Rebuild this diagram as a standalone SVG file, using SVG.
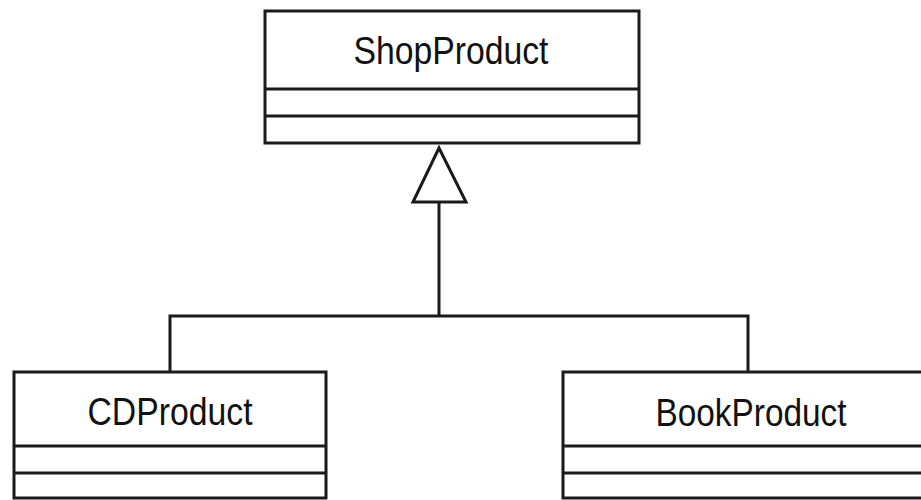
<svg xmlns="http://www.w3.org/2000/svg" width="921" height="500" viewBox="0 0 921 500">
  <style>
    .box { fill: #ffffff; stroke: #1a1a1a; stroke-width: 3; }
    .sep { stroke: #1a1a1a; stroke-width: 3; fill: none; }
    .name { font-family: "Liberation Sans", Arial, sans-serif; font-size: 38px; fill: #111111; text-anchor: middle; }
    .edge { stroke: #1a1a1a; stroke-width: 3; fill: none; }
    .head { fill: #ffffff; stroke: #1a1a1a; stroke-width: 3; stroke-linejoin: miter; }
  </style>
  <rect width="921" height="500" fill="#ffffff"/>

  <!-- inheritance connectors -->
  <g id="connectors">
    <path class="edge" d="M170,372 V316 H748 V372"/>
    <path class="edge" d="M439,316 V202"/>
    <polygon class="head" points="439,148 466,202 413,202"/>
  </g>

  <g id="ShopProduct">
    <rect class="box" x="265" y="11" width="374" height="132"/>
    <line class="sep" x1="265" y1="89" x2="639" y2="89"/>
    <line class="sep" x1="265" y1="116" x2="639" y2="116"/>
    <text class="name" x="451" y="64" textLength="195" lengthAdjust="spacingAndGlyphs">ShopProduct</text>
  </g>

  <g id="CDProduct">
    <rect class="box" x="14" y="372" width="312" height="126"/>
    <line class="sep" x1="14" y1="446" x2="326" y2="446"/>
    <line class="sep" x1="14" y1="473" x2="326" y2="473"/>
    <text class="name" x="170" y="425" textLength="165" lengthAdjust="spacingAndGlyphs">CDProduct</text>
  </g>

  <g id="BookProduct">
    <rect class="box" x="563" y="372" width="380" height="126"/>
    <line class="sep" x1="563" y1="446" x2="943" y2="446"/>
    <line class="sep" x1="563" y1="473" x2="943" y2="473"/>
    <text class="name" x="751" y="426" textLength="191" lengthAdjust="spacingAndGlyphs">BookProduct</text>
  </g>
</svg>
